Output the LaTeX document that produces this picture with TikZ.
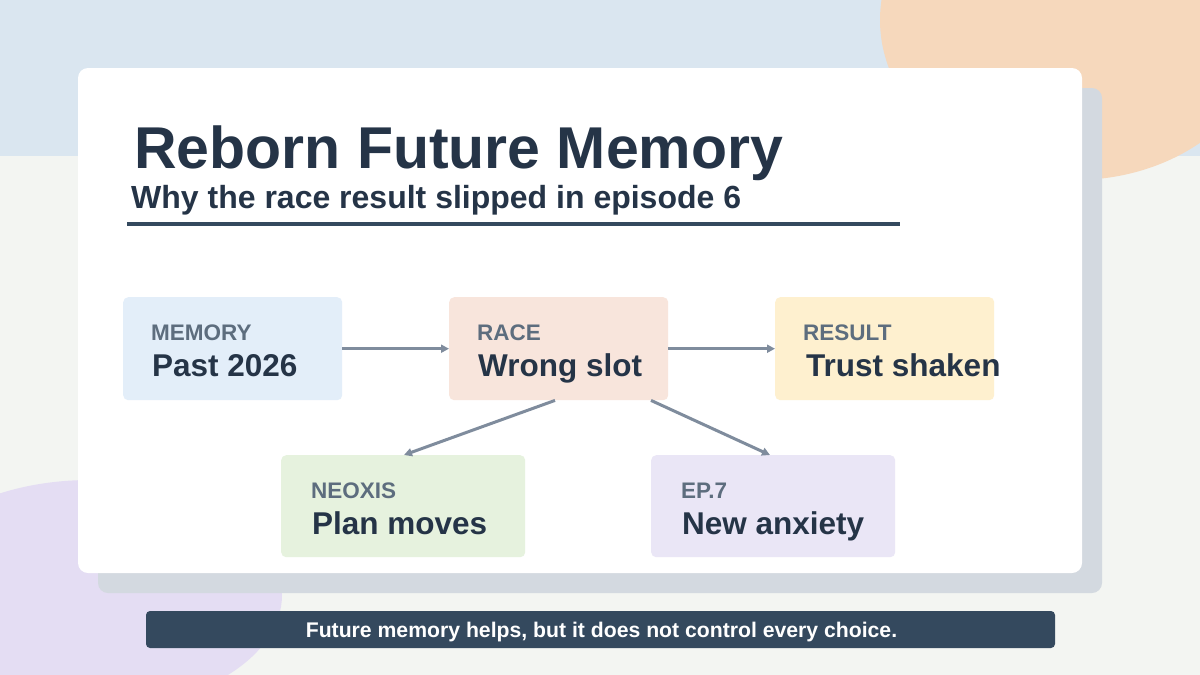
\documentclass[tikz,border=0pt]{standalone}
\usepackage{fontspec}
\setmainfont{Liberation Sans}
\usetikzlibrary{arrows.meta,calc}
\definecolor{bgc}{HTML}{F3F5F2}
\definecolor{bandc}{HTML}{DAE6F0}
\definecolor{orangec}{HTML}{F6D8BC}
\definecolor{purplec}{HTML}{E4DDF3}
\definecolor{shadowc}{HTML}{D3D9E0}
\definecolor{titlec}{HTML}{253447}
\definecolor{linec}{HTML}{34495E}
\definecolor{labelc}{HTML}{5D6D7E}
\definecolor{arrowc}{HTML}{7F8C9D}
\definecolor{memc}{HTML}{E3EEF9}
\definecolor{racec}{HTML}{F8E5DC}
\definecolor{resc}{HTML}{FEF0CF}
\definecolor{neoc}{HTML}{E6F2DE}
\definecolor{epc}{HTML}{EAE6F6}
\tikzset{
  boxbase/.style={rounded corners=5pt, minimum width=219pt, minimum height=103pt, anchor=north west, inner sep=0pt},
  widebox/.style={boxbase, minimum width=244pt, minimum height=102pt},
  lbl/.style={anchor=base west, inner sep=0pt, text=labelc, font=\bfseries\fontsize{22.5}{26}\selectfont},
  mainlbl/.style={anchor=base west, inner sep=0pt, text=titlec, font=\bfseries\fontsize{31.5}{36}\selectfont},
  conn/.style={draw=arrowc, line width=3pt, -{Triangle[length=8pt,width=8pt]}}
}
\begin{document}
\begin{tikzpicture}[x=1pt,y=-1pt]
\useasboundingbox (0,0) rectangle (1200,675);
\fill[bgc] (0,0) rectangle (1200,675);
\fill[bandc] (0,0) rectangle (1200,156);
\fill[orangec] (1075,20) ellipse [x radius=195, y radius=160];
\fill[purplec] (90,595) ellipse [x radius=192, y radius=115];
% cards
\fill[shadowc, rounded corners=10pt] (98,88) rectangle (1102,593);
\fill[white, rounded corners=10pt] (78,68) rectangle (1082,573);
% title
\node[anchor=base west, inner sep=0pt, text=titlec, font=\bfseries\fontsize{59}{64}\selectfont] (title) at (134,168) {Reborn Future Memory};
\node[anchor=base west, inner sep=0pt, text=titlec, font=\bfseries\fontsize{32}{36}\selectfont] (sub) at (131,208) {Why the race result slipped in episode 6};
\draw[linec, line width=4pt] (127,224) -- (900,224);
% boxes
\node[boxbase, fill=memc] (mem) at (123,297) {};
\node[boxbase, fill=racec] (race) at (449,297) {};
\node[boxbase, fill=resc] (res) at (775,297) {};
\node[widebox, fill=neoc] (neo) at (281,455) {};
\node[widebox, fill=epc] (ep) at (651,455) {};
% texts
\node[lbl] (memL) at (151,340) {MEMORY};
\node[mainlbl] (memM) at (152,376) {Past 2026};
\node[lbl] (raceL) at (477,340) {RACE};
\node[mainlbl] (raceM) at (478,376) {Wrong slot};
\node[lbl] (resL) at (803,340) {RESULT};
\node[mainlbl] (resM) at (806,376) {Trust shaken};
\node[lbl] (neoL) at (311,498) {NEOXIS};
\node[mainlbl] (neoM) at (312,534) {Plan moves};
\node[lbl] (epL) at (681,498) {EP.7};
\node[mainlbl] (epM) at (682,534) {New anxiety};
% connectors
\draw[conn] (mem.east) -- (race.west);
\draw[conn] (race.east) -- (res.west);
\draw[conn] ([xshift=106pt]race.south west) -- ([xshift=123pt]neo.north west);
\draw[conn] ([xshift=202pt]race.south west) -- ([xshift=119pt]ep.north west);
% footer
\node[fill=linec, rounded corners=4pt, minimum width=909pt, minimum height=37pt, inner sep=0pt] (foot) at (600.5,629.5) {};
\node[anchor=base, inner sep=0pt, text=white, font=\bfseries\fontsize{21.2}{24}\selectfont] (footT) at (601.5,637) {Future memory helps, but it does not control every choice.};
\end{tikzpicture}
\end{document}
